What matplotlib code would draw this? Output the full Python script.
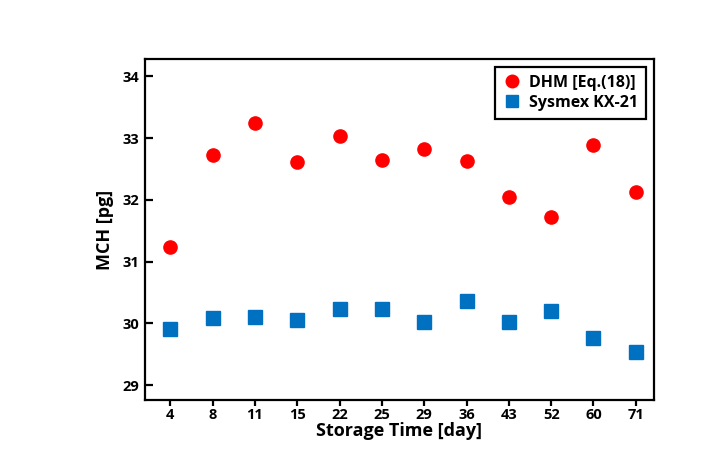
import matplotlib
matplotlib.use("Agg")
import matplotlib.pyplot as plt

days = ["4", "8", "11", "15", "22", "25", "29", "36", "43", "52", "60", "71"]
dhm = [31.23, 32.72, 33.24, 32.62, 33.04, 32.65, 32.83, 32.63, 32.04, 31.72, 32.89, 32.12]
sysmex = [29.91, 30.08, 30.11, 30.05, 30.24, 30.23, 30.02, 30.37, 30.02, 30.20, 29.77, 29.53]
yticks = [29, 30, 31, 32, 33, 34]

plt.rcParams['font.family'] = ['Open Sans', 'DejaVu Sans']
plt.rcParams['font.weight'] = 'bold'

fig = plt.figure(figsize=(7.22, 4.66), dpi=100)
ax = fig.add_axes([0.2008, 0.1416, 0.705, 0.7318])
x = list(range(len(days)))
ax.plot(x, dhm, 'o', color='#ff0000', markersize=9.5, label='DHM [Eq.(18)]', linestyle='none')
ax.plot(x, sysmex, 's', color='#0070c0', markersize=9.5, label='Sysmex KX-21', linestyle='none')

ax.set_xlim(-0.6, 11.43)
ax.set_ylim(28.76, 34.28)
ax.set_xticks(x)
ax.set_xticklabels(days)
ax.set_yticks(yticks)
for s in ax.spines.values():
    s.set_linewidth(1.6)
ax.tick_params(axis='y', direction='in', length=6, width=1.6, labelsize=10.5, pad=4)
ax.tick_params(axis='x', direction='out', length=4, width=1.6, labelsize=10.5, pad=2)
for lab in ax.get_xticklabels() + ax.get_yticklabels():
    lab.set_fontweight('bold')
ax.set_xlabel('Storage Time [day]', fontsize=13, fontweight='bold', labelpad=0)
ax.set_ylabel('MCH [pg]', fontsize=13, fontweight='bold', labelpad=6)

leg = ax.legend(loc='upper right', fancybox=False, edgecolor='black', framealpha=1,
                prop={'weight': 'bold', 'size': 11.5}, handletextpad=0.5, borderpad=0.5,
                handlelength=1.1, labelspacing=0.25, borderaxespad=0,
                markerscale=0.95, bbox_to_anchor=(0.984, 0.977))
leg.get_frame().set_linewidth(1.6)

fig.savefig('out.png', dpi=100)
